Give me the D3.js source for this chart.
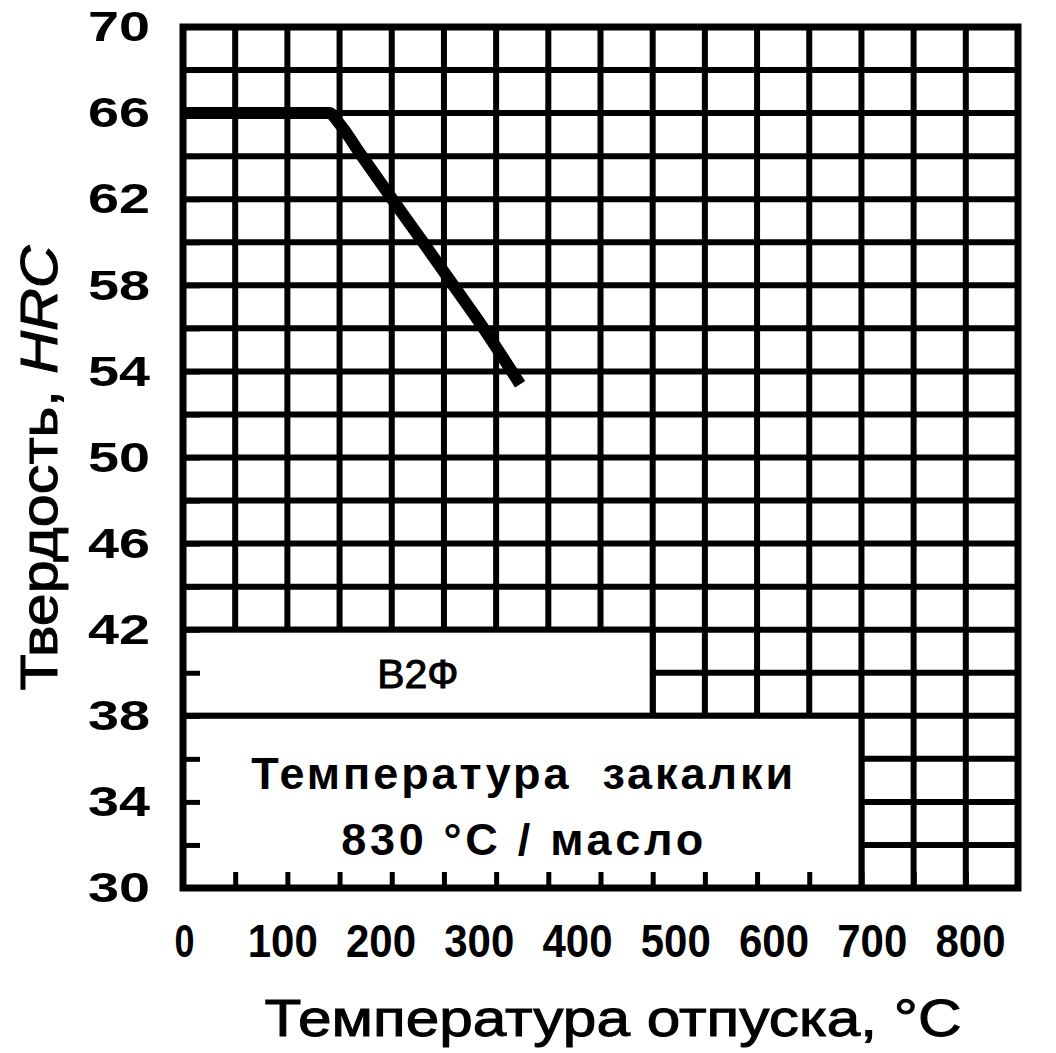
<!DOCTYPE html>
<html>
<head>
<meta charset="utf-8">
<script src="https://cdn.jsdelivr.net/npm/d3@7"></script>
<style>
  body { margin: 0; background: #fff; }
  text { font-family: "Liberation Sans", Arial, sans-serif; fill: #000; }
</style>
</head>
<body>
<svg id="chart"></svg>
<script>
// tempering temperature (°C) vs hardness (HRC), steel В2Ф
const temperature = [0, 140, 150, 170, 199, 230, 259, 288, 323];
const hardness = [66, 66, 65.5, 64.1, 62.1, 60, 58, 56, 53.4];

const xTickLabels = [0, 100, 200, 300, 400, 500, 600, 700, 800];
const yTickLabels = [30, 34, 38, 42, 46, 50, 54, 58, 62, 66, 70];
const xGrid = d3.range(0, 801, 50);
const yGrid = d3.range(30, 71, 2);

const steelLabel = "В2Ф";
const noteLines = ["Температура  закалки", "830 °С / масло"];
// label boxes as [x0, x1, y0, y1] in data units
const steelBox = [0, 450, 38, 42];
const noteBox = [0, 650, 30, 38];

const width = 1056;
const height = 1053;
const margin = { top: 27, right: 38, bottom: 165, left: 183 };

const svg = d3.select("#chart").attr("width", width).attr("height", height);

const x = d3.scaleLinear().domain([0, 800]).range([margin.left, width - margin.right]);
const y = d3.scaleLinear().domain([30, 70]).range([height - margin.bottom, margin.top]);
// the printed x labels sit a little tighter than the grid
const xLabelPos = d3.scaleLinear().domain([0, 800]).range([184, 970]);

const lineW = 6;

// grid
svg.append("g")
  .selectAll("line")
  .data(xGrid)
  .join("line")
  .attr("x1", (d) => x(d)).attr("x2", (d) => x(d))
  .attr("y1", y(30)).attr("y2", y(70))
  .attr("stroke", "#000").attr("stroke-width", lineW);

svg.append("g")
  .selectAll("line")
  .data(yGrid)
  .join("line")
  .attr("x1", x(0)).attr("x2", x(800))
  .attr("y1", (d) => y(d)).attr("y2", (d) => y(d))
  .attr("stroke", "#000").attr("stroke-width", lineW);

// white label boxes over the grid
[steelBox, noteBox].forEach((b) => {
  svg.append("rect")
    .attr("x", x(b[0])).attr("y", y(b[3]))
    .attr("width", x(b[1]) - x(b[0]))
    .attr("height", y(b[2]) - y(b[3]))
    .attr("fill", "#fff")
    .attr("stroke", "#000").attr("stroke-width", lineW);
});

// inward ticks (seen inside the boxes)
const tickAxisY = svg.append("g")
  .attr("transform", `translate(${x(0)},0)`)
  .call(d3.axisLeft(y).tickValues(yGrid).tickSize(-17).tickFormat(""));
const tickAxisX = svg.append("g")
  .attr("transform", `translate(0,${y(30)})`)
  .call(d3.axisBottom(x).tickValues(xGrid).tickSize(-16).tickFormat(""));
[tickAxisY, tickAxisX].forEach((g) => {
  g.select(".domain").remove();
  g.selectAll(".tick line").attr("stroke", "#000").attr("stroke-width", 5);
});

// frame
svg.append("rect")
  .attr("x", x(0)).attr("y", y(70))
  .attr("width", x(800) - x(0)).attr("height", y(30) - y(70))
  .attr("fill", "none").attr("stroke", "#000").attr("stroke-width", 7);

// tick labels
const yLab = svg.append("g")
  .attr("transform", `translate(${x(0) - 33},0)`)
  .call(d3.axisLeft(y).tickValues(yTickLabels).tickSize(0).tickPadding(0));
yLab.select(".domain").remove();
yLab.selectAll("text")
  .attr("font-size", 43).attr("font-weight", "bold")
  .attr("font-family", "Liberation Sans, Arial, sans-serif")
  .attr("textLength", 62).attr("lengthAdjust", "spacingAndGlyphs")
  .attr("fill", "#000");

const xLab = svg.append("g")
  .attr("transform", `translate(0,${y(30) + 36})`)
  .call(d3.axisBottom(xLabelPos).tickValues(xTickLabels).tickSize(0).tickPadding(0));
xLab.select(".domain").remove();
xLab.selectAll("text")
  .attr("font-size", 46).attr("font-weight", "bold")
  .attr("font-family", "Liberation Sans, Arial, sans-serif")
  .attr("fill", "#000")
  .attr("lengthAdjust", "spacingAndGlyphs")
  .attr("textLength", (d) => (d > 0 ? 70 : 20));

// curve
const pts = temperature.map((t, i) => [t, hardness[i]]);
svg.append("path")
  .datum(pts)
  .attr("d", d3.line().x((d) => x(d[0])).y((d) => y(d[1])).curve(d3.curveMonotoneX))
  .attr("fill", "none")
  .attr("stroke", "#000")
  .attr("stroke-width", 12)
  .attr("stroke-linejoin", "round");

// box texts
svg.append("text")
  .attr("x", (x(steelBox[0]) + x(steelBox[1])) / 2)
  .attr("y", (y(steelBox[2]) + y(steelBox[3])) / 2 + 15)
  .attr("text-anchor", "middle")
  .attr("font-size", 41)
  .attr("stroke", "#000").attr("stroke-width", 1)
  .text(steelLabel);

const noteLen = [542, 362];
noteLines.forEach((s, i) => {
  svg.append("text")
    .attr("x", (x(noteBox[0]) + x(noteBox[1])) / 2)
    .attr("y", 789 + i * 66)
    .attr("text-anchor", "middle")
    .attr("font-size", 45)
    .attr("font-weight", "bold")
    .attr("textLength", noteLen[i])
    .attr("lengthAdjust", "spacing")
    .style("white-space", "pre")
    .text(s);
});

// axis titles
svg.append("text")
  .attr("x", 613)
  .attr("y", 1036)
  .attr("text-anchor", "middle")
  .attr("font-size", 52)
  .attr("stroke", "#000").attr("stroke-width", 1)
  .attr("textLength", 697)
  .attr("lengthAdjust", "spacingAndGlyphs")
  .text("Температура отпуска, °С");

const yt = svg.append("text")
  .attr("transform", `translate(57,468) rotate(-90)`)
  .attr("text-anchor", "middle")
  .attr("font-size", 52)
  .attr("stroke", "#000").attr("stroke-width", 1)
  .attr("textLength", 445)
  .attr("lengthAdjust", "spacingAndGlyphs");
yt.append("tspan").text("Твердость, ");
yt.append("tspan").attr("font-style", "italic").text("HRC");
</script>
</body>
</html>
